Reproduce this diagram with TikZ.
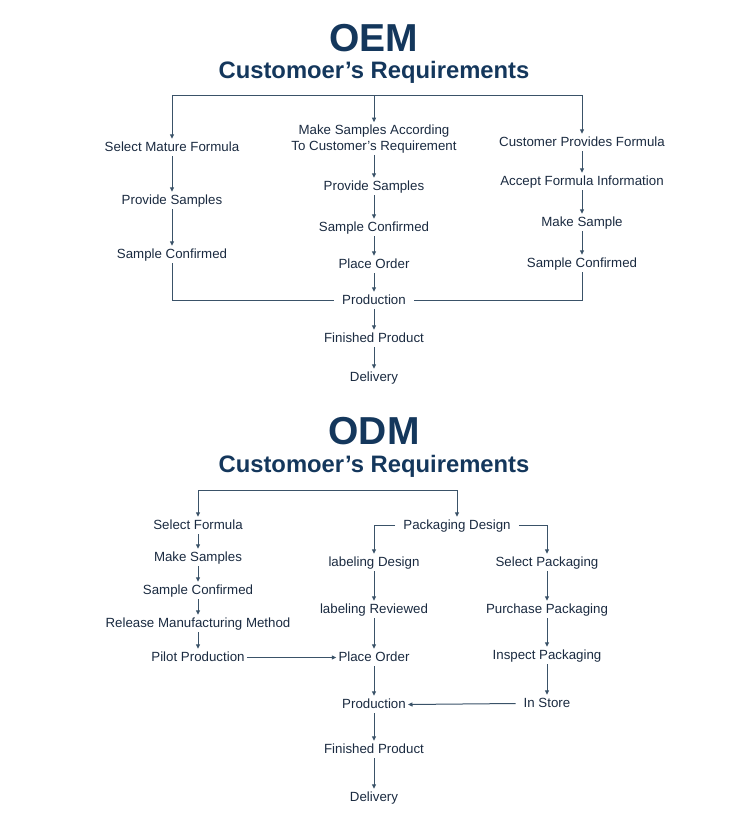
\documentclass[tikz,border=0pt]{standalone}
\usepackage{fontspec}
\setmainfont{Liberation Sans}
\usetikzlibrary{arrows.meta,positioning}
\definecolor{TitleBlue}{RGB}{20,55,92}
\definecolor{TextNavy}{RGB}{26,42,64}
\definecolor{LineSlate}{RGB}{58,82,104}
\newcommand{\stagefont}{\fontsize{13.3}{16}\selectfont}
\begin{document}
\begin{tikzpicture}[x=1pt,y=-1pt,
  bigtitle/.style={anchor=base,text=TitleBlue,font=\fontsize{39}{39}\selectfont\bfseries},
  subtitle/.style={anchor=base,text=TitleBlue,font=\fontsize{23.8}{24}\selectfont\bfseries},
  stage/.style={anchor=base,text=TextNavy,font=\stagefont,inner sep=2pt,text height=10pt,text depth=3pt},
  flow/.style={-{Triangle[length=4.5pt,width=4pt]},LineSlate,line width=1pt},
  link/.style={LineSlate,line width=1pt}]
  \useasboundingbox (0,0) rectangle (750,825);
  \node[bigtitle] (oem) at (374,51) {OEM};
  \node[subtitle] (oemreq) at (374,78) {Customoer’s Requirements};
  \coordinate (oemtop) at (374,95);
  \node[stage] (matform) at (172,151) {Select Mature Formula};
  \node[stage,align=center,text height=,text depth=] (mkacc) at (374,150) {Make Samples According\\To Customer’s Requirement};
  \node[stage] (custform) at (582,146) {Customer Provides Formula};
  \node[stage] (provL) at (172,204) {Provide Samples};
  \node[stage] (confL) at (172,258) {Sample Confirmed};
  \node[stage] (provM) at (374,190) {Provide Samples};
  \node[stage] (confM) at (374,231) {Sample Confirmed};
  \node[stage] (orderM) at (374,268) {Place Order};
  \node[stage,inner xsep=8pt] (prodM) at (374,304) {Production};
  \node[stage] (finM) at (374,342) {Finished Product};
  \node[stage] (delM) at (374,381) {Delivery};
  \node[stage] (accR) at (582,185) {Accept Formula Information};
  \node[stage] (mkR) at (582,226) {Make Sample};
  \node[stage] (confR) at (582,267) {Sample Confirmed};
  \draw[flow] (oemtop) -| (matform.north);
  \draw[flow] (oemtop) -- (mkacc.north);
  \draw[flow] (oemtop) -| (custform.north);
  \draw[flow] (matform) -- (provL);
  \draw[flow] (provL) -- (confL);
  \draw[link] (confL.south) |- (prodM.west);
  \draw[flow] (mkacc.south) -- (provM);
  \draw[flow] (provM) -- (confM);
  \draw[flow] (confM) -- (orderM);
  \draw[flow] (orderM) -- (prodM);
  \draw[flow] (prodM) -- (finM);
  \draw[flow] (finM) -- (delM);
  \draw[flow] (custform) -- (accR);
  \draw[flow] (accR) -- (mkR);
  \draw[flow] (mkR) -- (confR);
  \draw[link] (confR.south) |- (prodM.east);
  \node[bigtitle] (odm) at (374,444) {ODM};
  \node[subtitle] (odmreq) at (374,472) {Customoer’s Requirements};
  \coordinate (odmtop) at (330,490);
  \node[stage] (selform) at (198,529) {Select Formula};
  \node[stage] (mksam) at (198,561) {Make Samples};
  \node[stage] (confO) at (198,594) {Sample Confirmed};
  \node[stage] (release) at (198,627) {Release Manufacturing Method};
  \node[stage] (pilot) at (198,661) {Pilot Production};
  \node[stage,inner xsep=8pt] (packdes) at (457,529) {Packaging Design};
  \node[stage] (labdes) at (374,566) {labeling Design};
  \node[stage] (labrev) at (374,613) {labeling Reviewed};
  \node[stage] (orderO) at (374,661) {Place Order};
  \node[stage] (prodO) at (374,708) {Production};
  \node[stage] (finO) at (374,753) {Finished Product};
  \node[stage] (delO) at (374,801) {Delivery};
  \node[stage] (selpack) at (547,566) {Select Packaging};
  \node[stage] (purpack) at (547,613) {Purchase Packaging};
  \node[stage] (inspack) at (547,659) {Inspect Packaging};
  \node[stage,inner xsep=8pt] (store) at (547,707) {In Store};
  \draw[flow] (odmtop) -| (selform.north);
  \draw[flow] (odmtop) -| (packdes.north);
  \draw[flow] (selform) -- (mksam);
  \draw[flow] (mksam) -- (confO);
  \draw[flow] (confO) -- (release);
  \draw[flow] (release) -- (pilot);
  \draw[flow] (pilot.east) -- (orderO.west);
  \draw[flow] (packdes.west) -| (labdes.north);
  \draw[flow] (packdes.east) -| (selpack.north);
  \draw[flow] (labdes) -- (labrev);
  \draw[flow] (labrev) -- (orderO);
  \draw[flow] (orderO) -- (prodO);
  \draw[flow] (prodO) -- (finO);
  \draw[flow] (finO) -- (delO);
  \draw[flow] (selpack) -- (purpack);
  \draw[flow] (purpack) -- (inspack);
  \draw[flow] (inspack) -- (store);
  \draw[flow] (store.west) -- (prodO.east);
\end{tikzpicture}
\end{document}
